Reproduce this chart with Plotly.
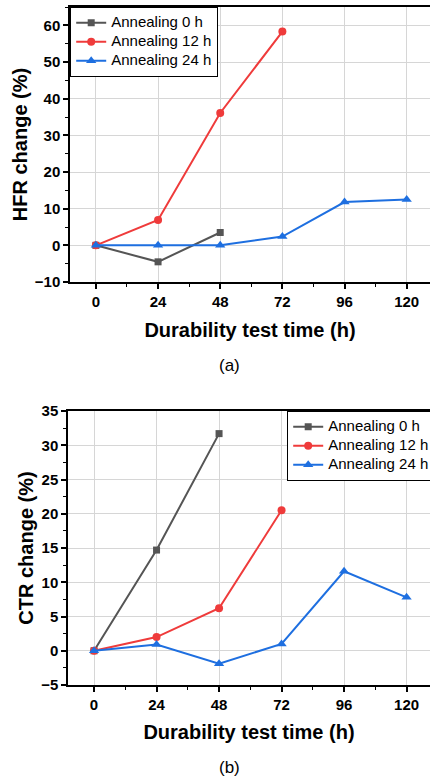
import plotly.graph_objects as go

time_h = [0, 24, 48, 72, 96, 120]
x_ticks = [0, 24, 48, 72, 96, 120]

series_names = ["Annealing 0 h", "Annealing 12 h", "Annealing 24 h"]

hfr_0h = [0, -4.5, 3.5]
hfr_12h = [0, 6.9, 36.1, 58.3]
hfr_24h = [0, 0, 0, 2.4, 11.8, 12.5]

ctr_0h = [0, 14.7, 31.7]
ctr_12h = [0, 2.0, 6.2, 20.5]
ctr_24h = [0, 0.9, -1.9, 1.0, 11.6, 7.8]

colors = ["#555555", "#EF3B3B", "#1E6FE0"]
symbols = ["square", "circle", "triangle-up"]
sizes = [7, 8, 9]
FONT = "Liberation Sans, Arial, sans-serif"


def legend_name(s):
    return '<span style="font-size:15px">' + s + '</span>'


fig = go.Figure()

top = [hfr_0h, hfr_12h, hfr_24h]
bot = [ctr_0h, ctr_12h, ctr_24h]
for i, vals in enumerate(top):
    fig.add_trace(go.Scatter(
        x=time_h[:len(vals)], y=vals, mode="lines+markers", name=legend_name(series_names[i]),
        line=dict(color=colors[i], width=2),
        marker=dict(symbol=symbols[i], size=sizes[i], color=colors[i]),
        xaxis="x", yaxis="y", legend="legend"))
for i, vals in enumerate(bot):
    fig.add_trace(go.Scatter(
        x=time_h[:len(vals)], y=vals, mode="lines+markers", name=legend_name(series_names[i]),
        line=dict(color=colors[i], width=2),
        marker=dict(symbol=symbols[i], size=sizes[i], color=colors[i]),
        xaxis="x2", yaxis="y2", legend="legend2"))

axis_common = dict(
    showline=True, linecolor="black", linewidth=1.5,
    showgrid=True, gridcolor="#d6d6d6", gridwidth=1,
    ticks="outside", ticklen=5, tickwidth=1.5, tickcolor="black",
    tickfont=dict(family=FONT, size=15, color="black", weight="bold"),
    zeroline=False, automargin=False,
)
title_font = dict(family=FONT, size=20, color="black", weight="bold")
minor_x = dict(ticks="outside", ticklen=3, tickwidth=1, tickcolor="black", dtick=12, tick0=0, showgrid=False)

legend_common = dict(
    yanchor="top",
    bgcolor="white", bordercolor="black", borderwidth=1.2,
    font=dict(family=FONT, size=12, color="black"),
    tracegroupgap=0,
)

fig.update_layout(
    width=430, height=781,
    margin=dict(l=0, r=0, t=0, b=0, autoexpand=False),
    paper_bgcolor="white", plot_bgcolor="white",
    showlegend=True,
    xaxis=dict(domain=[70/430, 1.0], anchor="y", range=[-10, 129],
               tickvals=x_ticks, mirror=True, minor=minor_x,
               title=dict(text="Durability test time (h)", font=title_font, standoff=14),
               **axis_common),
    yaxis=dict(domain=[1 - 282/781, 1 - 7/781], anchor="x", range=[-10, 65],
               dtick=10, tick0=0,
               minor=dict(ticks="outside", ticklen=3, tickwidth=1, tickcolor="black", dtick=5, tick0=0, showgrid=False),
               title=dict(text="HFR change (%)", font=title_font, standoff=2),
               **axis_common),
    xaxis2=dict(domain=[68/430, 1.0], anchor="y2", range=[-10, 129],
                tickvals=x_ticks, mirror=True, minor=minor_x,
                title=dict(text="Durability test time (h)", font=title_font, standoff=13),
                **axis_common),
    yaxis2=dict(domain=[1 - 685/781, 1 - 411/781], anchor="x2", range=[-5, 35],
                dtick=5, tick0=0,
                minor=dict(ticks="outside", ticklen=3, tickwidth=1, tickcolor="black", dtick=2.5, tick0=0, showgrid=False),
                title=dict(text="CTR change (%)", font=title_font, standoff=2),
                **axis_common),
    legend=dict(x=70/430, y=1 - 7/781, xanchor="left", **legend_common),
    legend2=dict(x=287/430, y=1 - 411/781, xanchor="left", **legend_common),
    annotations=[
        dict(text="(a)", x=229/430, y=1 - 365/781, xref="paper", yref="paper",
             xanchor="center", yanchor="middle",
             showarrow=False, font=dict(family=FONT, size=17, color="black")),
        dict(text="(b)", x=229/430, y=1 - 767/781, xref="paper", yref="paper",
             xanchor="center", yanchor="middle",
             showarrow=False, font=dict(family=FONT, size=17, color="black")),
    ],
)

fig.write_html("out.html")
